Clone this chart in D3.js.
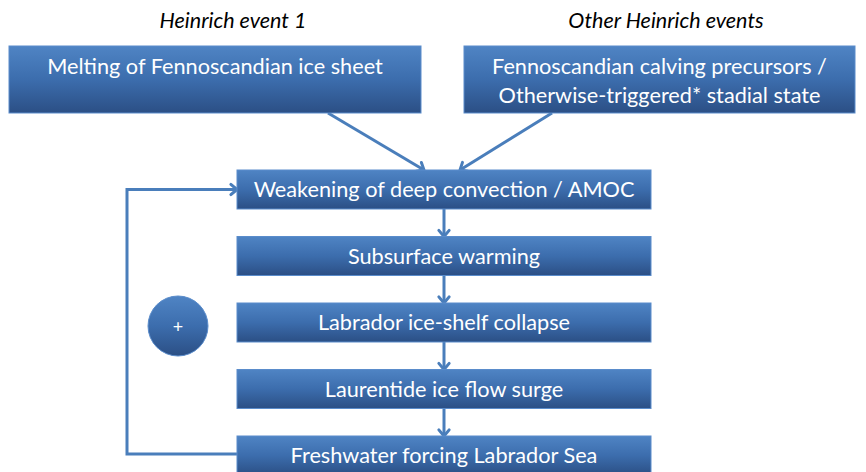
<!DOCTYPE html>
<html>
<head>
<meta charset="utf-8">
<script src="https://cdn.jsdelivr.net/npm/d3@7"></script>
<style>
  body { margin: 0; background: #fff; }
  text { font-family: Lato, "Open Sans", sans-serif; }
</style>
</head>
<body>
<div id="chart"></div>
<script>
// Diagram content
const headings = ["Heinrich event 1", "Other Heinrich events"];
const triggers = [
  ["Melting of Fennoscandian ice sheet"],
  ["Fennoscandian calving precursors /", "Otherwise-triggered* stadial state"]
];
const chain = [
  "Weakening of deep convection / AMOC",
  "Subsurface warming",
  "Labrador ice-shelf collapse",
  "Laurentide ice flow surge",
  "Freshwater forcing Labrador Sea"
];
const feedbackSign = "+";

const width = 866, height = 472;
const lineColor = "#4a7ebb";

const svg = d3.select("#chart").append("svg")
  .attr("width", width)
  .attr("height", height);

const defs = svg.append("defs");
const grad = defs.append("linearGradient")
  .attr("id", "boxGrad")
  .attr("x1", 0).attr("y1", 0).attr("x2", 0).attr("y2", 1);
grad.append("stop").attr("offset", "0%").attr("stop-color", "#4f84c4");
grad.append("stop").attr("offset", "50%").attr("stop-color", "#3c6dad");
grad.append("stop").attr("offset", "100%").attr("stop-color", "#2b4f85");

// scales for layout
const xTop = d3.scaleOrdinal().domain(headings).range([[9, 421], [464, 855]]);
const headX = d3.scaleOrdinal().domain(headings).range([233, 666]);
const yChain = d3.scalePoint().domain(chain).range([170, 436]);
const boxH = 39;
const chainX0 = 237, chainX1 = 651;
const chainCx = (chainX0 + chainX1) / 2;

// arrow head as open chevron
function chevron(g, x, y, angle) {
  const s = 8;
  const a = angle;
  const p1 = [x - s * Math.cos(a - 0.7), y - s * Math.sin(a - 0.7)];
  const p2 = [x - s * Math.cos(a + 0.7), y - s * Math.sin(a + 0.7)];
  g.append("path")
    .attr("d", `M${p1}L${x},${y}L${p2}`)
    .attr("fill", "none")
    .attr("stroke", lineColor)
    .attr("stroke-width", 3)
    .attr("stroke-linecap", "round")
    .attr("stroke-linejoin", "round");
}

function arrow(g, x1, y1, x2, y2) {
  g.append("line")
    .attr("x1", x1).attr("y1", y1).attr("x2", x2).attr("y2", y2)
    .attr("stroke", lineColor).attr("stroke-width", 3);
  chevron(g, x2, y2, Math.atan2(y2 - y1, x2 - x1));
}

const arrows = svg.append("g");

// headings
svg.append("g").selectAll("text")
  .data(headings)
  .join("text")
  .attr("x", d => headX(d))
  .attr("y", 28)
  .attr("text-anchor", "middle")
  .attr("font-style", "italic")
  .attr("font-size", 21.5)
  .attr("fill", "#000")
  .text(d => d);

// trigger boxes
const topBoxes = svg.append("g").selectAll("g")
  .data(headings)
  .join("g");
topBoxes.append("rect")
  .attr("x", d => xTop(d)[0])
  .attr("y", 46)
  .attr("width", d => xTop(d)[1] - xTop(d)[0])
  .attr("height", 67)
  .attr("fill", "url(#boxGrad)")
  .attr("stroke", "#5a8ccb")
  .attr("stroke-width", 1);
topBoxes.each(function(d, i) {
  const g = d3.select(this);
  const cx = (xTop(d)[0] + xTop(d)[1]) / 2;
  triggers[i].forEach((line, j) => {
    g.append("text")
      .attr("x", cx)
      .attr("y", 74 + j * 29)
      .attr("text-anchor", "middle")
      .attr("font-size", 21.7)
      .attr("fill", "#fff")
      .text(line);
  });
});

// arrows from triggers into chain
arrow(arrows, 328, 113, 424, 170);
arrow(arrows, 552, 113, 460, 170);

// vertical arrows between chain boxes
chain.slice(1).forEach((d, i) => {
  arrow(arrows, chainCx, yChain(chain[i]) + boxH, chainCx, yChain(d));
});

// feedback loop
const loopX = 127;
const yFirst = yChain(chain[0]) + boxH / 2;
const yLast = yChain(chain[chain.length - 1]) + 18;
arrows.append("path")
  .attr("d", `M${chainX0},${yLast}H${loopX}V${yFirst}H${chainX0}`)
  .attr("fill", "none")
  .attr("stroke", lineColor)
  .attr("stroke-width", 3);
chevron(arrows, chainX0, yFirst, 0);

// chain boxes
const boxes = svg.append("g").selectAll("g")
  .data(chain)
  .join("g");
boxes.append("rect")
  .attr("x", chainX0)
  .attr("y", d => yChain(d))
  .attr("width", chainX1 - chainX0)
  .attr("height", boxH)
  .attr("fill", "url(#boxGrad)")
  .attr("stroke", "#5a8ccb")
  .attr("stroke-width", 1);
boxes.append("text")
  .attr("x", chainCx)
  .attr("y", d => yChain(d) + 27)
  .attr("text-anchor", "middle")
  .attr("font-size", 21.7)
  .attr("fill", "#fff")
  .text(d => d);

// feedback sign circle
svg.append("circle")
  .attr("cx", 178).attr("cy", 326).attr("r", 30)
  .attr("fill", "url(#boxGrad)")
  .attr("stroke", "#5a8ccb");
svg.append("text")
  .attr("x", 178).attr("y", 333)
  .attr("text-anchor", "middle")
  .attr("font-size", 18)
  .attr("fill", "#fff")
  .text(feedbackSign);
</script>
</body>
</html>
